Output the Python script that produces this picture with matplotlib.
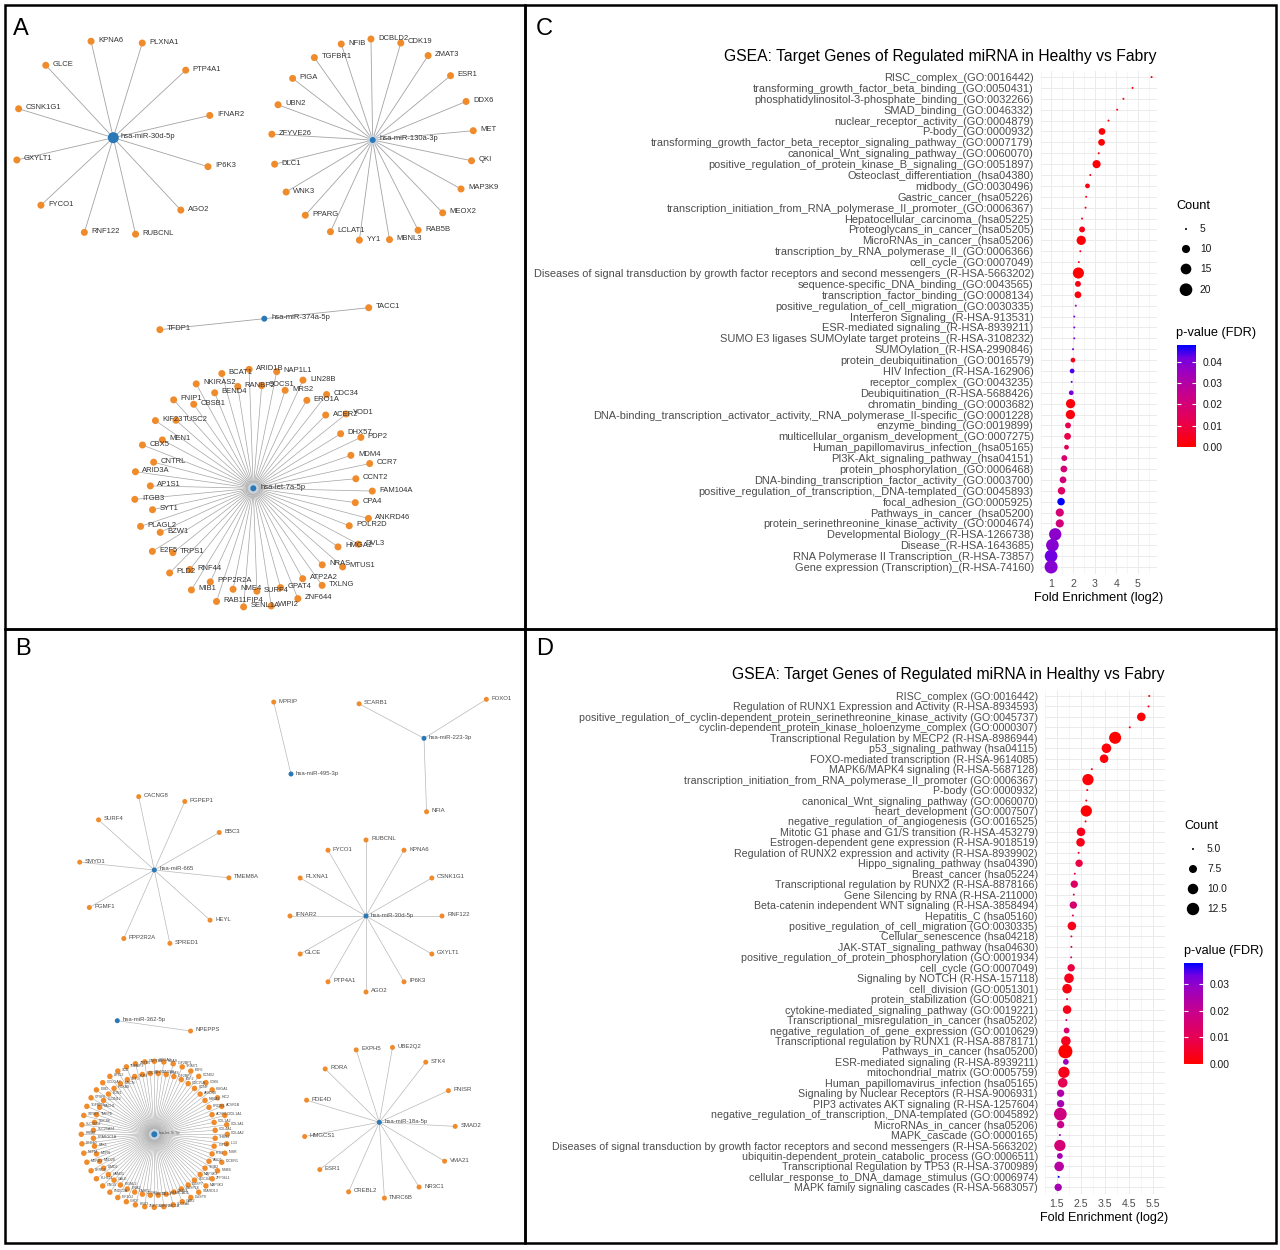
import numpy as np
import matplotlib
matplotlib.use("Agg")
import matplotlib.pyplot as plt
from matplotlib.colors import LinearSegmentedColormap, Normalize
from matplotlib.cm import ScalarMappable
from matplotlib.patches import Rectangle

plt.rcParams['font.family'] = ['Liberation Sans', 'DejaVu Sans']

W, H = 1280, 1250

# ---------------- panel C : GSEA (dot plot) ----------------
c_terms = [
    "RISC_complex_(GO:0016442)",
    "transforming_growth_factor_beta_binding_(GO:0050431)",
    "phosphatidylinositol-3-phosphate_binding_(GO:0032266)",
    "SMAD_binding_(GO:0046332)",
    "nuclear_receptor_activity_(GO:0004879)",
    "P-body_(GO:0000932)",
    "transforming_growth_factor_beta_receptor_signaling_pathway_(GO:0007179)",
    "canonical_Wnt_signaling_pathway_(GO:0060070)",
    "positive_regulation_of_protein_kinase_B_signaling_(GO:0051897)",
    "Osteoclast_differentiation_(hsa04380)",
    "midbody_(GO:0030496)",
    "Gastric_cancer_(hsa05226)",
    "transcription_initiation_from_RNA_polymerase_II_promoter_(GO:0006367)",
    "Hepatocellular_carcinoma_(hsa05225)",
    "Proteoglycans_in_cancer_(hsa05205)",
    "MicroRNAs_in_cancer_(hsa05206)",
    "transcription_by_RNA_polymerase_II_(GO:0006366)",
    "cell_cycle_(GO:0007049)",
    "Diseases of signal transduction by growth factor receptors and second messengers_(R-HSA-5663202)",
    "sequence-specific_DNA_binding_(GO:0043565)",
    "transcription_factor_binding_(GO:0008134)",
    "positive_regulation_of_cell_migration_(GO:0030335)",
    "Interferon Signaling_(R-HSA-913531)",
    "ESR-mediated signaling_(R-HSA-8939211)",
    "SUMO E3 ligases SUMOylate target proteins_(R-HSA-3108232)",
    "SUMOylation_(R-HSA-2990846)",
    "protein_deubiquitination_(GO:0016579)",
    "HIV Infection_(R-HSA-162906)",
    "receptor_complex_(GO:0043235)",
    "Deubiquitination_(R-HSA-5688426)",
    "chromatin_binding_(GO:0003682)",
    "DNA-binding_transcription_activator_activity,_RNA_polymerase_II-specific_(GO:0001228)",
    "enzyme_binding_(GO:0019899)",
    "multicellular_organism_development_(GO:0007275)",
    "Human_papillomavirus_infection_(hsa05165)",
    "PI3K-Akt_signaling_pathway_(hsa04151)",
    "protein_phosphorylation_(GO:0006468)",
    "DNA-binding_transcription_factor_activity_(GO:0003700)",
    "positive_regulation_of_transcription,_DNA-templated_(GO:0045893)",
    "focal_adhesion_(GO:0005925)",
    "Pathways_in_cancer_(hsa05200)",
    "protein_serinethreonine_kinase_activity_(GO:0004674)",
    "Developmental Biology_(R-HSA-1266738)",
    "Disease_(R-HSA-1643685)",
    "RNA Polymerase II Transcription_(R-HSA-73857)",
    "Gene expression (Transcription)_(R-HSA-74160)",
]
c_fold = [5.63, 4.75, 4.33, 4.04, 3.64, 3.34, 3.32, 3.19, 3.09, 2.80,
          2.67, 2.61, 2.58, 2.42, 2.42, 2.38, 2.34, 2.27, 2.25, 2.23,
          2.23, 2.13, 2.06, 2.06, 2.06, 2.00, 2.00, 1.96, 1.94, 1.92,
          1.89, 1.88, 1.77, 1.75, 1.70, 1.60, 1.58, 1.54, 1.47, 1.45,
          1.39, 1.39, 1.18, 1.05, 0.99, 0.99]
c_count = [5, 5, 5, 5, 5, 8, 8, 5, 10, 5,
           6, 5, 5, 5, 7, 12, 5, 5, 16, 7,
           8, 5, 5, 5, 5, 5, 6, 6, 5, 6,
           12, 12, 7, 8, 6, 7, 8, 8, 9, 9,
           10, 10, 19, 20, 20, 21]
c_fdr = [0.001, 0.002, 0.002, 0.003, 0.002, 0.001, 0.001, 0.003, 0.001, 0.003,
         0.002, 0.004, 0.004, 0.004, 0.003, 0.001, 0.005, 0.005, 0.0001, 0.003,
         0.002, 0.033, 0.041, 0.041, 0.041, 0.042, 0.004, 0.044, 0.043, 0.041,
         0.002, 0.002, 0.012, 0.011, 0.014, 0.018, 0.020, 0.021, 0.016, 0.048,
         0.020, 0.021, 0.038, 0.039, 0.042, 0.039]
c_fold_ticks = [1, 2, 3, 4, 5]
c_count_breaks = [5, 10, 15, 20]
c_fdr_ticks = [0.00, 0.01, 0.02, 0.03, 0.04]

# ---------------- panel D : GSEA (dot plot) ----------------
d_terms = [
    "RISC_complex (GO:0016442)",
    "Regulation of RUNX1 Expression and Activity (R-HSA-8934593)",
    "positive_regulation_of_cyclin-dependent_protein_serinethreonine_kinase_activity (GO:0045737)",
    "cyclin-dependent_protein_kinase_holoenzyme_complex (GO:0000307)",
    "Transcriptional Regulation by MECP2 (R-HSA-8986944)",
    "p53_signaling_pathway (hsa04115)",
    "FOXO-mediated transcription (R-HSA-9614085)",
    "MAPK6/MAPK4 signaling (R-HSA-5687128)",
    "transcription_initiation_from_RNA_polymerase_II_promoter (GO:0006367)",
    "P-body (GO:0000932)",
    "canonical_Wnt_signaling_pathway (GO:0060070)",
    "heart_development (GO:0007507)",
    "negative_regulation_of_angiogenesis (GO:0016525)",
    "Mitotic G1 phase and G1/S transition (R-HSA-453279)",
    "Estrogen-dependent gene expression (R-HSA-9018519)",
    "Regulation of RUNX2 expression and activity (R-HSA-8939902)",
    "Hippo_signaling_pathway (hsa04390)",
    "Breast_cancer (hsa05224)",
    "Transcriptional regulation by RUNX2 (R-HSA-8878166)",
    "Gene Silencing by RNA (R-HSA-211000)",
    "Beta-catenin independent WNT signaling (R-HSA-3858494)",
    "Hepatitis_C (hsa05160)",
    "positive_regulation_of_cell_migration (GO:0030335)",
    "Cellular_senescence (hsa04218)",
    "JAK-STAT_signaling_pathway (hsa04630)",
    "positive_regulation_of_protein_phosphorylation (GO:0001934)",
    "cell_cycle (GO:0007049)",
    "Signaling by NOTCH (R-HSA-157118)",
    "cell_division (GO:0051301)",
    "protein_stabilization (GO:0050821)",
    "cytokine-mediated_signaling_pathway (GO:0019221)",
    "Transcriptional_misregulation_in_cancer (hsa05202)",
    "negative_regulation_of_gene_expression (GO:0010629)",
    "Transcriptional regulation by RUNX1 (R-HSA-8878171)",
    "Pathways_in_cancer (hsa05200)",
    "ESR-mediated signaling (R-HSA-8939211)",
    "mitochondrial_matrix (GO:0005759)",
    "Human_papillomavirus_infection (hsa05165)",
    "Signaling by Nuclear Receptors (R-HSA-9006931)",
    "PIP3 activates AKT signaling (R-HSA-1257604)",
    "negative_regulation_of_transcription,_DNA-templated (GO:0045892)",
    "MicroRNAs_in_cancer (hsa05206)",
    "MAPK_cascade (GO:0000165)",
    "Diseases of signal transduction by growth factor receptors and second messengers (R-HSA-5663202)",
    "ubiquitin-dependent_protein_catabolic_process (GO:0006511)",
    "Transcriptional Regulation by TP53 (R-HSA-3700989)",
    "cellular_response_to_DNA_damage_stimulus (GO:0006974)",
    "MAPK family signaling cascades (R-HSA-5683057)",
]
d_fold = [5.36, 5.33, 5.03, 4.55, 3.94, 3.58, 3.48, 2.97, 2.81, 2.78,
          2.74, 2.74, 2.71, 2.52, 2.50, 2.42, 2.44, 2.26, 2.24, 2.22,
          2.20, 2.18, 2.14, 2.12, 2.12, 2.11, 2.11, 2.02, 1.94, 1.94,
          1.94, 1.91, 1.92, 1.89, 1.87, 1.89, 1.81, 1.76, 1.67, 1.67,
          1.66, 1.67, 1.64, 1.64, 1.64, 1.61, 1.59, 1.57]
d_count = [5, 5, 8, 5, 12, 9, 8, 5, 11, 5,
           5, 11, 5, 8, 8, 5, 7, 5, 7, 5,
           7, 5, 8, 5, 5, 5, 7, 9, 9, 5,
           8, 5, 6, 9, 15, 6, 11, 9, 7, 7,
           13, 7, 5, 11, 6, 9, 5, 7]
d_fdr = [0.001, 0.002, 0.001, 0.002, 0.0002, 0.001, 0.001, 0.003, 0.001, 0.003,
         0.003, 0.0005, 0.004, 0.003, 0.003, 0.006, 0.008, 0.010, 0.013, 0.012,
         0.015, 0.012, 0.003, 0.010, 0.012, 0.015, 0.008, 0.003, 0.002, 0.010,
         0.003, 0.018, 0.014, 0.004, 0.0001, 0.028, 0.003, 0.010, 0.024, 0.026,
         0.018, 0.019, 0.029, 0.016, 0.026, 0.023, 0.038, 0.026]
d_fold_ticks = [1.5, 2.5, 3.5, 4.5, 5.5]
d_count_breaks = [5.0, 7.5, 10.0, 12.5]
d_fdr_ticks = [0.00, 0.01, 0.02, 0.03]

gsea_title = "GSEA: Target Genes of Regulated miRNA in Healthy vs Fabry"

# ---------------- panel A : miRNA -> target networks ----------------
a_30d_targets = ["KPNA6", "PLXNA1", "PTP4A1", "IFNAR2", "IP6K3", "AGO2", "RUBCNL",
                 "RNF122", "FYCO1", "GXYLT1", "CSNK1G1", "GLCE"]
a_130a_targets = ["DCBLD2", "CDK19", "ZMAT3", "ESR1", "DDX6", "MET", "QKI", "MAP3K9",
                  "MEOX2", "RAB5B", "MBNL3", "YY1", "LCLAT1", "PPARG", "WNK3", "DLC1",
                  "ZFYVE26", "UBN2", "PIGA", "TGFBR1", "NFIB"]
a_374a_targets = ["TACC1", "TFDP1"]
a_let7a_targets = ["ARID1B", "SOCS1", "NAP1L1", "MRS2", "LIN28B", "ERO1A", "CDC34",
                   "ACER2", "YOD1", "DHX57", "PDP2", "MDM4", "CCR7", "CCNT2", "FAM104A",
                   "CPA4", "ANKRD46", "POLR2D", "DVL3", "HMGA2", "MTUS1", "NRAS", "TXLNG",
                   "ATP2A2", "ZNF644", "GPAT4", "WIPI2", "SURF4", "SENL1A", "NME4",
                   "RAB11FIP4", "PPP2R2A", "MIB1", "RNF44", "PLD2", "TRPS1", "E2F5",
                   "BZW1", "PLAGL2", "SYT1", "ITGB3", "AP1S1", "ARID3A", "CNTRL", "CBX5",
                   "MEN1", "KIF23", "TUSC2", "FNIP1", "CBSB1", "NKIRAS2", "BEND4", "BCAT1",
                   "RANBP2"]

# ---------------- panel B : miRNA -> target networks ----------------
b_495_targets = ["MPRIP"]
b_223_targets = ["SCARB1", "FOXO1", "NFIA"]
b_665_targets = ["CACNG8", "PGPEP1", "BBC3", "TMEM8A", "HEYL", "SPRED1", "PPP2R2A",
                 "PGMF1", "SMYD1", "SURF4"]
b_30d_targets = ["RUBCNL", "KPNA6", "CSNK1G1", "RNF122", "GXYLT1", "IP6K3", "AGO2",
                 "PTP4A1", "GLCE", "IFNAR2", "PLXNA1", "FYCO1"]
b_362_targets = ["NPEPPS"]
b_18a_targets = ["EXPH5", "UBE2Q2", "STK4", "PNISR", "SMAD2", "VMA21", "NR3C1", "TNRC6B",
                 "CREBL2", "ESR1", "HMGCS1", "PDE4D", "RORA"]
b_let7b_targets = ["HMGA2", "LIN28B", "NRAS", "KRAS", "IGF2BP1", "IGF2BP2", "TRIM71",
                   "E2F2", "E2F6", "CDC25A", "CCND2", "CCNF", "CDK6", "ARID3B", "HMGA1",
                   "NR6A1", "HIC2", "PRDM1", "ACVR1B", "ACVR1C", "COL1A1", "COL1A2",
                   "COL3A1", "COL4A1", "COL4A2", "THBS1", "IL13", "IGF1R", "INSR", "IRS2",
                   "DICER1", "AGO1", "NME6", "TRIB2", "ZFP36L1", "MAP4K3", "MAP3K3",
                   "SOCS4", "STARD13", "DUSP7", "DUSP9", "DUSP16", "GAB2", "LRIG3",
                   "SLC5A6", "SMARCAD1", "SMC1A", "TTLL4", "UHRF2", "USP32", "ZNF710",
                   "ZC3H3", "PBX3", "CASP3", "CHD7", "DNA2", "EIF4G2", "FIGNL2", "FNDC3A",
                   "GALE", "GNG5", "HAND1", "KLHL11", "LIMD2", "LRRC6", "MED28", "MEF2D",
                   "MTPN", "NEFM", "PAK1", "PEG10", "PPARGC1A", "RRM2", "SLC25A24",
                   "SLC35D2", "SOCS6", "STRBP", "TMPPE", "TGFBR3", "BACH1", "CPSF6",
                   "CLDN12", "DMD", "EDN1", "GOLGA7", "HOXA9", "LRIG2", "MYCN", "SCD",
                   "TET3", "TNFAIP3", "XKR8", "ZBTB5", "CDC34", "GNPTAB", "BZW1"]

ORANGE = "#F08B2C"
BLUE = "#2A78B6"

cmap = LinearSegmentedColormap.from_list(
    "red_blue_lab",
    [(0.0, "#FF0000"), (0.25, "#E80050"), (0.5, "#CA0088"),
     (0.75, "#9A00C2"), (0.875, "#7300E0"), (1.0, "#0000FF")])

fig = plt.figure(figsize=(12.8, 12.5), dpi=100)
fig.patch.set_facecolor("white")

# overlay axis in pixel coordinates (networks, borders, legends)
net = fig.add_axes([0, 0, 1, 1])
net.set_xlim(0, W)
net.set_ylim(H, 0)
net.axis("off")
net.patch.set_alpha(0)


def px_axes(x0, y0, x1, y1):
    return fig.add_axes([x0 / W, 1 - y1 / H, (x1 - x0) / W, (y1 - y0) / H])


def star(hub, targets, cx, cy, r_out, start, r_in=None, node_px=7, hub_px=6,
         fs=5.5, edge="#A3A3A3", lw=0.6, tcolor="#333333", halo=False, dx=7):
    n = len(targets)
    ang = np.deg2rad(start + 360.0 / n * np.arange(n))
    r = np.full(n, float(r_out))
    if r_in is not None:
        r[1::2] = r_in
    xs = cx + r * np.sin(ang)
    ys = cy - r * np.cos(ang)
    for x, y in zip(xs, ys):
        net.plot([cx, x], [cy, y], color=edge, lw=lw, zorder=1)
    net.scatter(xs, ys, s=(node_px * 0.72) ** 2, color=ORANGE, edgecolors="none", zorder=3)
    for x, y, t in zip(xs, ys, targets):
        net.text(x + dx, y - 1, t, fontsize=fs, color=tcolor, va="center", ha="left", zorder=4)
    if halo:
        net.scatter([cx], [cy], s=((hub_px + 5) * 0.72) ** 2, color="#C8D2DC",
                    edgecolors="none", zorder=4)
    net.scatter([cx], [cy], s=(hub_px * 0.72) ** 2, color=BLUE, edgecolors="none", zorder=5)
    net.text(cx + dx, cy - 1, hub, fontsize=fs, color=tcolor, va="center", ha="left", zorder=6)


# panel A networks
star("hsa-miR-30d-5p", a_30d_targets, 113.3, 137.7, 99, -13, hub_px=11)
star("hsa-miR-130a-3p", a_130a_targets, 372.7, 140, 101, -1, halo=True)
star("hsa-miR-374a-5p", a_374a_targets, 264.3, 318.7, 105, 84)
star("hsa-let-7a-5p", a_let7a_targets, 253.3, 488.3, 119, -2, r_in=103, halo=True, lw=0.5)

# panel B networks
bkw = dict(node_px=5, hub_px=5, fs=4.3, edge="#B8B8B8", lw=0.5, tcolor="#4A4A4A", dx=5)
star("hsa-miR-495-3p", b_495_targets, 291, 774, 74, -13.5, **bkw)
star("hsa-miR-223-3p", b_223_targets, 424, 738.3, 73.5, -62, **bkw)
star("hsa-miR-665", b_665_targets, 154.3, 870, 75, -12, **bkw)
star("hsa-miR-30d-5p", b_30d_targets, 366, 916, 76, 0, **bkw)
star("hsa-miR-362-5p", b_362_targets, 117.3, 1020.7, 74, 98, **bkw)
star("hsa-miR-18a-5p", b_18a_targets, 379.3, 1122.3, 76, -17.7, **bkw)
star("hsa-let-7b-5p", b_let7b_targets, 154.3, 1134.3, 73, 0, r_in=61, node_px=5.5,
     hub_px=6, fs=2.6, edge="#A8A8A8", lw=0.4, tcolor="#4A4A4A", dx=4, halo=True)

# panel borders and letters
for (x0, y0, x1, y1) in [(5, 5, 525, 629), (525, 5, 1276, 629),
                         (5, 629, 525, 1243), (525, 629, 1276, 1243)]:
    net.add_patch(Rectangle((x0, y0), x1 - x0, y1 - y0, fill=False,
                            edgecolor="black", lw=1.8, zorder=10))
for letter, x, y in [("A", 13, 29), ("B", 15, 649), ("C", 536, 29), ("D", 536, 649)]:
    net.text(x, y, letter, fontsize=17, color="black", va="center", ha="left")


def size_px(count, cmin, cmax, dmin, dmax):
    frac = (np.asarray(count, float) - cmin) / (cmax - cmin)
    return dmin + (dmax - dmin) * np.sqrt(np.clip(frac, 0, 1))


def dotplot(box, terms, fold, count, fdr, ticks, tick_fmt, fs, base, title_fs,
            size_rng, title_y, legend):
    ax = px_axes(*box)
    n = len(terms)
    ypos = np.arange(n)[::-1]
    cmin, cmax = min(count), max(count)
    dmin, dmax = size_rng
    norm = Normalize(vmin=0, vmax=max(fdr))
    diam = size_px(count, cmin, cmax, dmin, dmax)
    ax.scatter(fold, ypos, s=(diam * 0.72) ** 2, c=fdr, cmap=cmap, norm=norm,
               edgecolors="none", zorder=3)
    lo, hi = min(fold), max(fold)
    pad = 0.05 * (hi - lo)
    ax.set_xlim(lo - pad, hi + pad)
    ax.set_ylim(-0.6, n - 0.4)
    ax.set_yticks(ypos)
    ax.set_yticklabels(terms, fontsize=fs, color="#4D4D4D")
    ax.set_xticks(ticks)
    ax.set_xticklabels([tick_fmt.format(t) for t in ticks], fontsize=7.6, color="#4D4D4D")
    step = ticks[1] - ticks[0]
    minor = [t - step / 2 for t in ticks] + [ticks[-1] + step / 2]
    ax.set_xticks(minor, minor=True)
    ax.grid(which="major", color="#EBEBEB", lw=0.7)
    ax.grid(which="minor", axis="x", color="#F2F2F2", lw=0.5)
    ax.set_axisbelow(True)
    ax.tick_params(which="both", length=0)
    ax.tick_params(axis="y", pad=4.8)
    ax.tick_params(axis="x", pad=4)
    for s in ax.spines.values():
        s.set_visible(False)
    x0, y0, x1, y1 = box
    net.text(x1, title_y, gsea_title, fontsize=title_fs, color="black",
             ha="right", va="center")
    net.text((x0 + x1) / 2, y1 + 24, "Fold Enrichment (log2)", fontsize=base,
             color="black", ha="center", va="center")

    # size legend
    lx, ly, dotx, labx, rows, breaks, lab_fmt, pv_y, cbar = legend
    net.text(lx, ly, "Count", fontsize=base, color="black", ha="left", va="center")
    bd = size_px(breaks, cmin, cmax, dmin, dmax)
    net.scatter([dotx] * len(breaks), rows, s=(bd * 0.72) ** 2, color="black",
                edgecolors="none")
    for yy, b in zip(rows, breaks):
        net.text(labx, yy, lab_fmt.format(b), fontsize=7.4, color="#1A1A1A",
                 ha="left", va="center")
    # colour bar
    net.text(lx, pv_y, "p-value (FDR)", fontsize=base, color="black", ha="left", va="center")
    cax = px_axes(*cbar)
    cb = fig.colorbar(ScalarMappable(norm=norm, cmap=cmap), cax=cax)
    cb.outline.set_visible(False)
    return cb


cb_c = dotplot((1040.5, 70.5, 1156.6, 573.5), c_terms, c_fold, c_count, c_fdr,
               c_fold_ticks, "{:g}", 7.9, 9.2, 11.35, (2.0, 13.0), 56.5,
               (1176.5, 205.7, 1186, 1200, [229, 249, 269, 289.7], c_count_breaks, "{:g}",
                332.7, (1177, 345, 1196, 447)))
cb_d = dotplot((1044.5, 689.7, 1164.6, 1193.6), d_terms, d_fold, d_count, d_fdr,
               d_fold_ticks, "{:.1f}", 7.7, 9.05, 11.3, (2.0, 14.0), 675,
               (1184, 825.7, 1193, 1207, [849, 869, 889, 909], d_count_breaks, "{:.1f}",
                951, (1184, 963, 1203, 1064)))

for cb, ticks in [(cb_c, c_fdr_ticks), (cb_d, d_fdr_ticks)]:
    cb.set_ticks(ticks)
    cb.ax.set_yticklabels(["{:.2f}".format(t) for t in ticks], fontsize=7.4, color="#1A1A1A")
    cb.ax.tick_params(length=0, pad=5)
    for t in ticks:
        cb.ax.hlines(t, 0, 0.2, color="white", lw=0.8)
        cb.ax.hlines(t, 0.8, 1, color="white", lw=0.8)

fig.savefig("out.png", dpi=100)
